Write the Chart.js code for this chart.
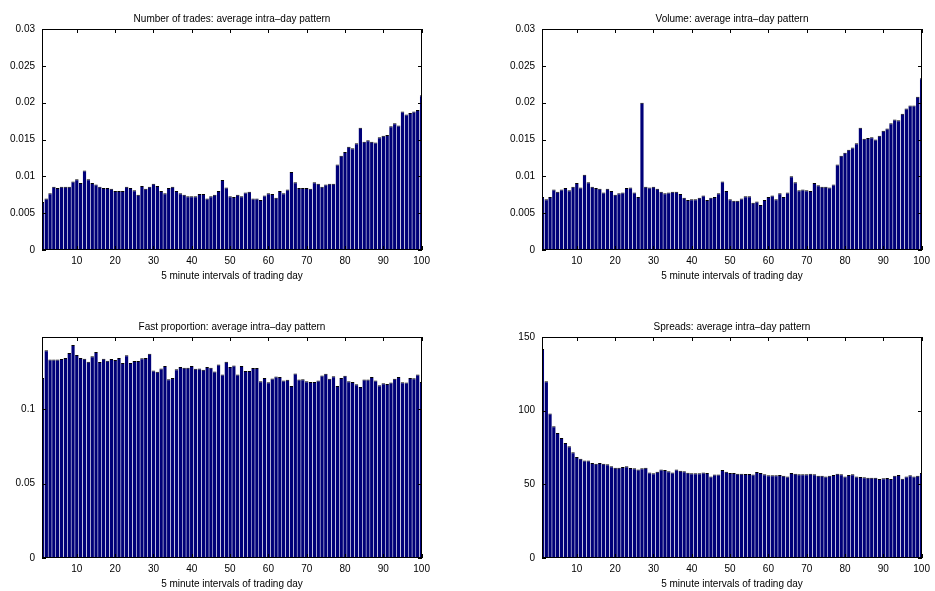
<!DOCTYPE html>
<html>
<head>
<meta charset="utf-8">
<script src="https://cdn.jsdelivr.net/npm/chart.js@4.4.0/dist/chart.umd.min.js"></script>
<style>
  html, body { margin: 0; padding: 0; background: #fff; overflow: hidden; }
  body { width: 935px; height: 591px; position: relative; }
  canvas { position: absolute; }
</style>
</head>
<body>
<canvas id="c1" width="467" height="283" style="left:0px;top:0px"></canvas>
<canvas id="c2" width="467" height="283" style="left:500px;top:0px"></canvas>
<canvas id="c3" width="467" height="283" style="left:0px;top:308px"></canvas>
<canvas id="c4" width="467" height="283" style="left:500px;top:308px"></canvas>
<script>
// 5 minute intervals 1..100
const intervals = Array.from({ length: 100 }, (_, i) => i + 1);
const xTicks = [10, 20, 30, 40, 50, 60, 70, 80, 90, 100];
const xLabel = '5 minute intervals of trading day';

const tradesTicks = [0, 0.005, 0.01, 0.015, 0.02, 0.025, 0.03];
const volumeTicks = [0, 0.005, 0.01, 0.015, 0.02, 0.025, 0.03];
const fastTicks = [0, 0.05, 0.1];
const spreadTicks = [0, 50, 100, 150];

const tradesVals = [
  0.0065, 0.0070, 0.0077, 0.0086, 0.0084, 0.0086, 0.0086, 0.0086, 0.0093, 0.0096,
  0.0091, 0.0108, 0.0096, 0.0091, 0.0089, 0.0086, 0.0084, 0.0084, 0.0083, 0.0080,
  0.0080, 0.0080, 0.0086, 0.0084, 0.0081, 0.0075, 0.0087, 0.0083, 0.0086, 0.0090,
  0.0087, 0.0080, 0.0077, 0.0084, 0.0086, 0.0080, 0.0077, 0.0075, 0.0073, 0.0073,
  0.0073, 0.0076, 0.0076, 0.0070, 0.0073, 0.0075, 0.0080, 0.0095, 0.0085, 0.0073,
  0.0072, 0.0075, 0.0073, 0.0078, 0.0079, 0.0070, 0.0070, 0.0068, 0.0074, 0.0077,
  0.0076, 0.0071, 0.0080, 0.0077, 0.0082, 0.0106, 0.0092, 0.0084, 0.0084, 0.0084,
  0.0083, 0.0092, 0.0090, 0.0086, 0.0089, 0.0090, 0.0090, 0.0116, 0.0128, 0.0133,
  0.0140, 0.0138, 0.0145, 0.0166, 0.0147, 0.0149, 0.0147, 0.0146, 0.0153, 0.0155,
  0.0156, 0.0168, 0.0172, 0.0169, 0.0188, 0.0184, 0.0186, 0.0188, 0.0190, 0.0210
];

const volumeVals = [
  0.0072, 0.0069, 0.0072, 0.0082, 0.0079, 0.0082, 0.0084, 0.0081, 0.0086, 0.0091,
  0.0085, 0.0102, 0.0092, 0.0086, 0.0084, 0.0083, 0.0078, 0.0083, 0.0080, 0.0075,
  0.0077, 0.0078, 0.0084, 0.0085, 0.0078, 0.0072, 0.0200, 0.0086, 0.0085, 0.0086,
  0.0083, 0.0079, 0.0077, 0.0078, 0.0079, 0.0079, 0.0076, 0.0071, 0.0068, 0.0069,
  0.0069, 0.0071, 0.0074, 0.0068, 0.0071, 0.0072, 0.0077, 0.0093, 0.0080, 0.0069,
  0.0067, 0.0067, 0.0070, 0.0073, 0.0073, 0.0064, 0.0066, 0.0061, 0.0068, 0.0072,
  0.0074, 0.0069, 0.0077, 0.0072, 0.0078, 0.0100, 0.0092, 0.0081, 0.0082, 0.0081,
  0.0080, 0.0091, 0.0088, 0.0086, 0.0086, 0.0085, 0.0089, 0.0116, 0.0128, 0.0132,
  0.0136, 0.0139, 0.0145, 0.0166, 0.0151, 0.0152, 0.0153, 0.0150, 0.0155, 0.0162,
  0.0165, 0.0172, 0.0177, 0.0176, 0.0185, 0.0192, 0.0196, 0.0196, 0.0208, 0.0233
];

const fastVals = [
  0.1210, 0.1396, 0.1333, 0.1333, 0.1333, 0.1337, 0.1344, 0.1378, 0.1432, 0.1364,
  0.1344, 0.1339, 0.1319, 0.1355, 0.1385, 0.1317, 0.1339, 0.1326, 0.1337, 0.1330,
  0.1344, 0.1310, 0.1362, 0.1310, 0.1324, 0.1324, 0.1342, 0.1344, 0.1373, 0.1260,
  0.1251, 0.1274, 0.1290, 0.1201, 0.1210, 0.1269, 0.1283, 0.1278, 0.1278, 0.1290,
  0.1271, 0.1274, 0.1265, 0.1283, 0.1278, 0.1253, 0.1301, 0.1233, 0.1319, 0.1283,
  0.1294, 0.1233, 0.1290, 0.1256, 0.1256, 0.1276, 0.1276, 0.1188, 0.1210, 0.1181,
  0.1206, 0.1219, 0.1217, 0.1192, 0.1197, 0.1156, 0.1240, 0.1199, 0.1201, 0.1188,
  0.1183, 0.1183, 0.1192, 0.1226, 0.1238, 0.1204, 0.1222, 0.1156, 0.1210, 0.1224,
  0.1188, 0.1183, 0.1167, 0.1149, 0.1199, 0.1199, 0.1217, 0.1192, 0.1161, 0.1174,
  0.1170, 0.1179, 0.1204, 0.1217, 0.1181, 0.1179, 0.1210, 0.1208, 0.1233, 0.1183
];

const spreadVals = [
  141.9, 119.9, 98.0, 89.4, 84.8, 81.4, 78.1, 75.8, 71.7, 68.6,
  67.4, 66.1, 66.1, 64.5, 64.0, 64.5, 64.0, 63.6, 62.2, 61.3,
  61.3, 61.8, 62.2, 61.1, 60.9, 60.0, 60.9, 61.3, 58.1, 57.5,
  58.6, 60.0, 59.7, 58.8, 58.1, 60.0, 59.3, 58.8, 57.9, 57.5,
  57.5, 57.5, 58.1, 57.7, 55.4, 56.6, 56.6, 59.7, 58.6, 57.7,
  57.7, 57.2, 57.2, 57.0, 57.0, 56.6, 58.4, 57.7, 56.8, 56.1,
  56.1, 56.1, 56.3, 55.9, 55.4, 57.7, 57.2, 56.8, 56.8, 56.8,
  57.2, 56.8, 55.9, 55.9, 55.4, 55.9, 56.3, 57.2, 56.8, 55.4,
  56.3, 56.8, 55.4, 55.0, 54.8, 54.5, 54.5, 54.5, 53.6, 54.1,
  54.3, 53.6, 55.9, 56.3, 53.8, 55.4, 56.1, 55.4, 55.9, 57.7
];

Chart.defaults.font.family = '"Liberation Sans", Arial, Helvetica, sans-serif';
Chart.defaults.font.size = 10;
Chart.defaults.color = '#000';

// box round the axes with inward ticks on all four sides, plus title and x label
const frame = {
  id: 'frame',
  afterDatasetsDraw(chart, args, opts) {
    const { ctx, chartArea: a, scales: { x, y } } = chart;
    const L = 4;
    ctx.save();
    ctx.strokeStyle = '#000';
    ctx.lineWidth = 1;
    ctx.beginPath();
    x.ticks.forEach(t => {
      const px = Math.round(x.getPixelForValue(t.value)) + 0.5;
      ctx.moveTo(px, a.bottom); ctx.lineTo(px, a.bottom - L);
      ctx.moveTo(px, a.top); ctx.lineTo(px, a.top + L);
    });
    y.ticks.forEach(t => {
      const py = Math.round(y.getPixelForValue(t.value)) + 0.5;
      ctx.moveTo(a.left, py); ctx.lineTo(a.left + L, py);
      ctx.moveTo(a.right, py); ctx.lineTo(a.right - L, py);
    });
    ctx.stroke();
    ctx.strokeRect(a.left + 0.5, a.top + 0.5, a.right - a.left - 1, a.bottom - a.top - 1);

    const cx = (a.left + a.right) / 2;
    ctx.fillStyle = '#000';
    ctx.font = '10px "Liberation Sans", Arial, sans-serif';
    ctx.textAlign = 'center';
    ctx.textBaseline = 'alphabetic';
    ctx.fillText(opts.title, cx, a.top - 7);
    ctx.fillText(xLabel, cx, a.bottom + 29);
    ctx.restore();
  }
};

function fmt(v) {
  return String(Number(v.toFixed(4)));
}

function makeChart(id, title, vals, yTicks, yMax) {
  new Chart(document.getElementById(id), {
    type: 'bar',
    data: {
      datasets: [{
        data: intervals.map((x, i) => ({ x: x, y: vals[i] })),
        backgroundColor: '#000078',
        borderColor: '#000',
        borderWidth: { top: 1, left: 0, right: 0, bottom: 0 },
        barPercentage: 0.92,
        categoryPercentage: 1
      }]
    },
    options: {
      responsive: false,
      animation: false,
      devicePixelRatio: 1,
      layout: { padding: { left: 0, top: 29, right: 45, bottom: 0 } },
      plugins: {
        legend: { display: false },
        tooltip: { enabled: false },
        frame: { title: title }
      },
      scales: {
        x: {
          type: 'linear',
          min: 0.9,
          max: 100.1,
          offset: false,
          grid: { display: false, drawTicks: false },
          border: { display: false },
          ticks: { padding: 5, maxRotation: 0, autoSkip: false, callback: v => fmt(v) },
          afterBuildTicks: s => { s.ticks = xTicks.map(v => ({ value: v })); },
          afterFit: s => { s.height = 33; }
        },
        y: {
          min: 0,
          max: yMax,
          grid: { display: false, drawTicks: false },
          border: { display: false },
          ticks: { padding: 7, autoSkip: false, callback: v => fmt(v) },
          afterBuildTicks: s => { s.ticks = yTicks.map(v => ({ value: v })); },
          afterFit: s => { s.width = 42; }
        }
      }
    },
    plugins: [frame]
  });
}

makeChart('c1', 'Number of trades: average intra\u2013day pattern', tradesVals, tradesTicks, 0.03);
makeChart('c2', 'Volume: average intra\u2013day pattern', volumeVals, volumeTicks, 0.03);
makeChart('c3', 'Fast proportion: average intra\u2013day pattern', fastVals, fastTicks, 0.1485);
makeChart('c4', 'Spreads: average intra\u2013day pattern', spreadVals, spreadTicks, 150);
</script>
</body>
</html>
